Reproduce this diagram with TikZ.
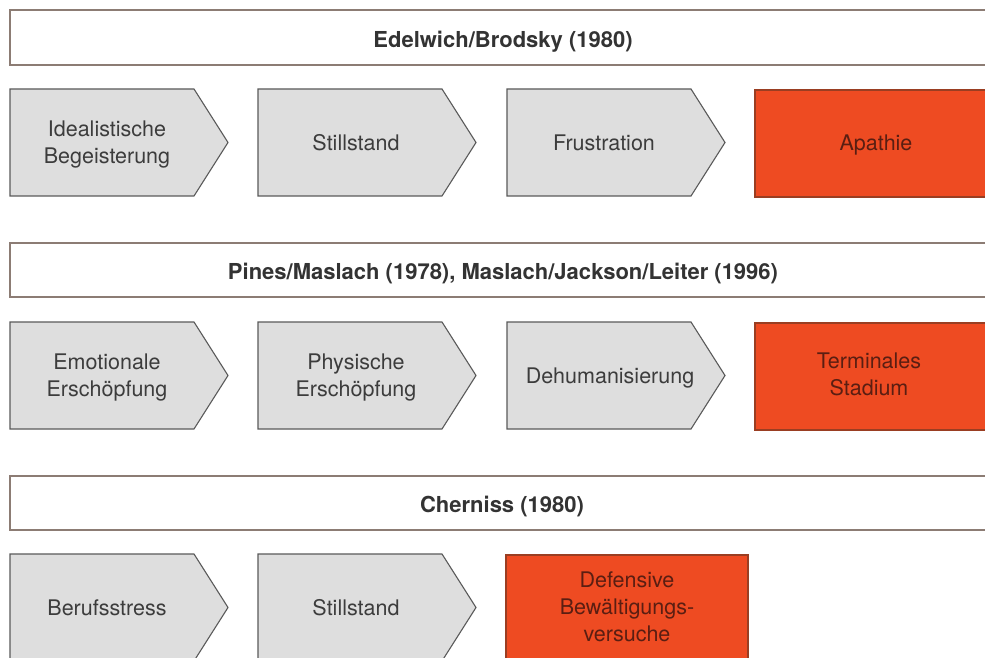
\documentclass[tikz,border=0pt]{standalone}
\usepackage{fontspec}
\setmainfont{TeX Gyre Heros}
\definecolor{stagegray}{HTML}{DEDEDE}
\definecolor{stageline}{HTML}{5A5A5A}
\definecolor{stagered}{HTML}{EE4B22}
\definecolor{redline}{HTML}{9A3E22}
\definecolor{hdrline}{HTML}{8C7C74}
\definecolor{hdrtextc}{HTML}{333333}
\definecolor{stagetextc}{HTML}{3C3C3C}
\definecolor{redtextc}{HTML}{5A1E12}
\newcommand\mychev[2]{\draw[stagebox] (#1,#2) -- ++(184,0) -- ++(34,-53.5) -- ++(-34,-53.5) -- ++(-184,0) -- cycle;}
\begin{document}
\begin{tikzpicture}[x=1pt,y=1pt,
  hdrbox/.style={draw=hdrline, line width=1.2pt, fill=white},
  stagebox/.style={draw=stageline, line width=1.1pt, fill=stagegray, line join=miter},
  redbox/.style={draw=redline, line width=1.1pt, fill=stagered},
  hdrtext/.style={font=\bfseries\fontsize{22}{26}\selectfont, text=hdrtextc, inner sep=0pt, text height=15.8pt, text depth=0pt},
  stagetext/.style={font=\fontsize{21.5}{27}\selectfont, text=stagetextc, align=center, inner sep=0pt, text height=15.5pt, text depth=0pt},
  twolines/.style={yshift=-13.5pt},
  threelines/.style={yshift=-27pt},
  redtext/.style={stagetext, text=redtextc}]
\useasboundingbox (0,0) rectangle (985,657);
\clip (0,0) rectangle (985,657);
\fill[white] (0,0) rectangle (985,657);

% ---- Row 1 ----
\draw[hdrbox] (10,592) rectangle (1000,647);
\node[hdrtext] (h1) at (503,617.5) {Edelwich/Brodsky (1980)};
\mychev{10}{568}
\mychev{258}{568}
\mychev{507}{568}
\draw[redbox] (755,567) rectangle (1000,460);
\node[stagetext, twolines] (a1) at (107,514.5) {Idealistische\\Begeisterung};
\node[stagetext] (a2) at (356,514.5) {Stillstand};
\node[stagetext] (a3) at (604,514.5) {Frustration};
\node[redtext] (a4) at (876,514.5) {Apathie};

% ---- Row 2 ----
\draw[hdrbox] (10,360) rectangle (1000,414);
\node[hdrtext] (h2) at (503,385) {Pines/Maslach (1978), Maslach/Jackson/Leiter (1996)};
\mychev{10}{335}
\mychev{258}{335}
\mychev{507}{335}
\draw[redbox] (755,334) rectangle (1000,227);
\node[stagetext, twolines] (b1) at (107,281.5) {Emotionale\\Erschöpfung};
\node[stagetext, twolines] (b2) at (356,281.5) {Physische\\Erschöpfung};
\node[stagetext] (b3) at (610,281.5) {Dehumanisierung};
\node[redtext, twolines] (b4) at (869,283) {Terminales\\Stadium};

% ---- Row 3 ----
\draw[hdrbox] (10,127) rectangle (1000,181);
\node[hdrtext] (h3) at (502,152) {Cherniss (1980)};
\mychev{10}{103}
\mychev{258}{103}
\draw[redbox] (506,102) rectangle (748,-10);
\node[stagetext] (c1) at (107,49.5) {Berufsstress};
\node[stagetext] (c2) at (356,49.5) {Stillstand};
\node[redtext, threelines] (c3) at (627,50) {Defensive\\Bewältigungs-\\versuche};
\end{tikzpicture}
\end{document}
